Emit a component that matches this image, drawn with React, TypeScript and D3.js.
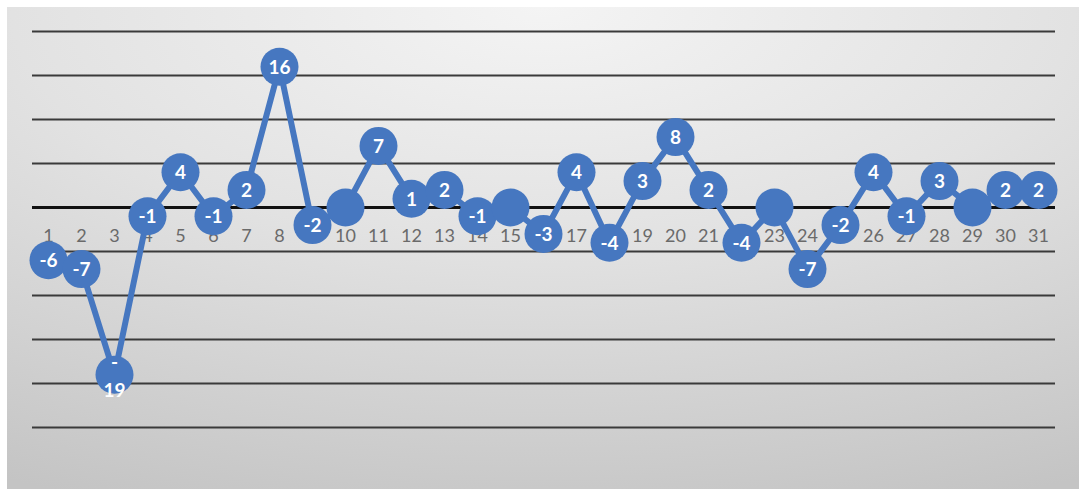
import React from "react";
import * as d3 from "d3";

const days: string[] = Array.from({ length: 31 }, (_, i) => String(i + 1));
const deltas: number[] = [
  -6, -7, -19, -1, 4, -1, 2, 16, -2, 0, 7, 1, 2, -1, 0, -3, 4, -4, 3, 8, 2, -4, 0, -7, -2, 4, -1, 3, 0, 2, 2,
];
const gridValues: number[] = [20, 15, 10, 5, 0, -5, -10, -15, -20, -25];

const W = 1079;
const H = 489;
const BLUE = "#4677C0";
const FONT = "Lato, 'Open Sans', sans-serif";

export default function App() {
  const x = d3.scaleBand<string>().domain(days).range([32, 1055]);
  const y = d3.scaleLinear().domain([-25, 20]).range([427.5, 31.5]);
  const cx = (d: string) => (x(d) as number) + x.bandwidth() / 2;

  const line = d3
    .line<number>()
    .x((_, i) => cx(days[i]))
    .y((v) => y(v));

  // Zero values carry no label; three-character labels wrap the sign onto its own line.
  const renderLabel = (v: number, i: number) => {
    if (v === 0) return null;
    const s = String(v);
    const px = cx(days[i]);
    const py = y(v);
    const common = {
      textAnchor: "middle" as const,
      fontFamily: FONT,
      fontWeight: "bold" as const,
      fontSize: 19,
      fill: "#fff",
    };
    if (s.length > 2) {
      return (
        <g key={i}>
          <text {...common} x={px} y={py - 6}>
            {s.slice(0, 1)}
          </text>
          <text {...common} x={px} y={py + 22}>
            {s.slice(1)}
          </text>
        </g>
      );
    }
    return (
      <text key={i} {...common} x={px} y={py} dy="0.36em">
        {s}
      </text>
    );
  };

  return (
    <svg
      width={W}
      height={H}
      style={{ position: "absolute", left: 0, top: 0, background: "#fff" }}
    >
      <defs>
        <radialGradient id="bg" cx="50%" cy="0%" r="110%" fx="50%" fy="0%">
          <stop offset="0%" stopColor="#f4f4f4" />
          <stop offset="45%" stopColor="#e2e2e2" />
          <stop offset="100%" stopColor="#c4c4c4" />
        </radialGradient>
      </defs>
      <rect x={7} y={7} width={W - 7} height={H - 7} fill="url(#bg)" />

      {gridValues.map((v) => (
        <line
          key={v}
          x1={32}
          x2={1055}
          y1={y(v)}
          y2={y(v)}
          stroke={v === 0 ? "#111" : "#3a3a3a"}
          strokeWidth={v === 0 ? 3 : 2}
        />
      ))}

      {days.map((d) => (
        <text
          key={d}
          x={cx(d)}
          y={y(0) + 34}
          textAnchor="middle"
          fontFamily={FONT}
          fontSize={18}
          fill="#6a6a6a"
        >
          {d}
        </text>
      ))}

      <path
        d={line(deltas) ?? ""}
        fill="none"
        stroke={BLUE}
        strokeWidth={6}
        strokeLinejoin="round"
      />

      {deltas.map((v, i) => (
        <circle key={i} cx={cx(days[i])} cy={y(v)} r={19} fill={BLUE} />
      ))}

      {deltas.map(renderLabel)}
    </svg>
  );
}
